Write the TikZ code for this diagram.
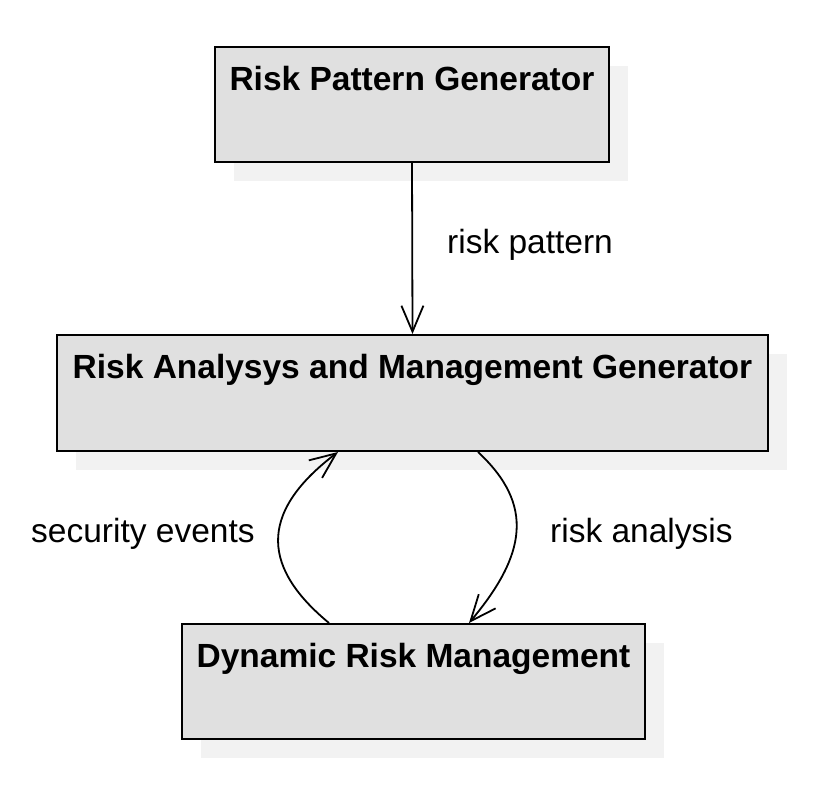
\documentclass[tikz,border=0pt]{standalone}
\usepackage{fontspec}
\setmainfont{Liberation Sans}
\usetikzlibrary{arrows.meta,shadows}
\definecolor{boxgray}{HTML}{E0E0E0}
\definecolor{shgray}{HTML}{F2F2F2}
\tikzset{
  box/.style={draw, line width=2bp, fill=boxgray, inner sep=0pt, anchor=north west,
    drop shadow={shadow xshift=19bp, shadow yshift=-19bp, fill=shgray, opacity=1}},
  boxtitle/.style={anchor=base, inner sep=0pt, font=\fontsize{33.5bp}{40bp}\selectfont\bfseries},
  lbl/.style={anchor=base west, inner sep=0pt, font=\fontsize{33.5bp}{40bp}\selectfont},
  conn/.style={line width=1.8bp, -{Straight Barb[length=26bp,width=22bp,line width=1.8bp]}}
}
\begin{document}
\begin{tikzpicture}[x=1bp, y=-1bp]
\useasboundingbox[fill=white] (0,0) rectangle (828,786);
% boxes
\node[box, minimum width=394bp, minimum height=115bp] (rpg) at (214,46) {};
\node[box, minimum width=711bp, minimum height=116bp] (ram) at (56,334) {};
\node[box, minimum width=463bp, minimum height=115bp] (drm) at (181,623) {};
% titles
\node[boxtitle] (rpgt) at ([yshift=-44bp]rpg.north) {Risk Pattern Generator};
\node[boxtitle] (ramt) at ([yshift=-44bp]ram.north) {Risk Analysys and Management Generator};
\node[boxtitle] (drmt) at ([yshift=-44bp]drm.north) {Dynamic Risk Management};
% connectors
\draw[conn] (rpg.south) -- (ram.north);
\draw[conn] ([xshift=-84.5bp]drm.north) .. controls (265,570) and (255,515) .. ([xshift=-74.5bp]ram.south);
\draw[conn] ([xshift=65.5bp]ram.south) .. controls (535,505) and (526,555) .. ([xshift=55.5bp]drm.north);
% labels
\node[lbl] (l1) at (447,253) {risk pattern};
\node[lbl] (l2) at (31,542) {security events};
\node[lbl] (l3) at (550,542) {risk analysis};
\end{tikzpicture}
\end{document}
